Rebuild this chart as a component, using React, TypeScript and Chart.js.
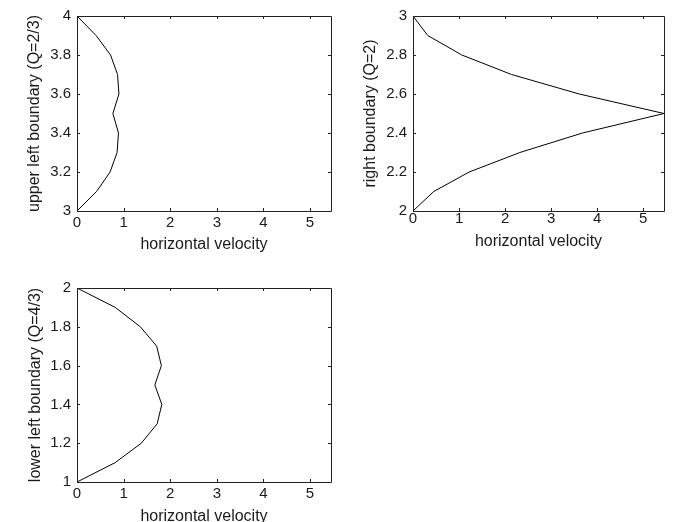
import React, { useEffect, useRef } from 'react';
import { Chart, registerables } from 'chart.js';

Chart.register(...registerables);

// ---- data ----
const upperLeftY = [4.0, 3.9, 3.8, 3.7, 3.6, 3.5, 3.4, 3.3, 3.2, 3.1, 3.0];
const upperLeftVelocity = [0, 0.41, 0.72, 0.87, 0.9, 0.77, 0.89, 0.86, 0.71, 0.42, 0];

const rightY = [3.0, 2.9, 2.8, 2.7, 2.6, 2.5, 2.4, 2.3, 2.2, 2.1, 2.0];
const rightVelocity = [0, 0.32, 1.06, 2.14, 3.61, 5.45, 3.68, 2.32, 1.22, 0.45, 0];

const lowerLeftY = [2.0, 1.9, 1.8, 1.7, 1.6, 1.5, 1.4, 1.3, 1.2, 1.1, 1.0];
const lowerLeftVelocity = [0, 0.82, 1.36, 1.71, 1.81, 1.67, 1.82, 1.72, 1.38, 0.82, 0];

const xAxisLabel = 'horizontal velocity';
const xMin = 0;
const xMax = 5.45;
const xStep = 1;
const yStep = 0.2;

const FONT = '"Liberation Sans", Arial, Helvetica, sans-serif';
const TEXT = '#1a1a1a';
const LINE = '#000000';
const TICK_SIZE = 15;
const TITLE_SIZE = 16;

const fmt = (v: number | string) => String(Number(Number(v).toFixed(1)));

type Panel = {
  left: number;
  top: number;
  width: number;
  height: number;
  yLabel: string;
  yValues: number[];
  velocity: number[];
  yMin: number;
  yMax: number;
  pad: { top: number; right: number; left: number; bottom: number };
  yAxisWidth: number;
  xAxisHeight: number;
  yTitlePad: number;
  xTitlePad: number;
  xTickPad: number;
};

const panels: Panel[] = [
  {
    left: 0, top: 0, width: 339, height: 261,
    yLabel: 'upper left boundary (Q=2/3)',
    yValues: upperLeftY, velocity: upperLeftVelocity, yMin: 3, yMax: 4,
    pad: { top: 16, right: 8, left: 0, bottom: 0 },
    yAxisWidth: 77, xAxisHeight: 50, yTitlePad: 25, xTitlePad: 7, xTickPad: 4,
  },
  {
    left: 339, top: 0, width: 339, height: 261,
    yLabel: 'right boundary (Q=2)',
    yValues: rightY, velocity: rightVelocity, yMin: 2, yMax: 3,
    pad: { top: 16, right: 14, left: 0, bottom: 0 },
    yAxisWidth: 74, xAxisHeight: 50, yTitlePad: 22, xTitlePad: 10, xTickPad: 0,
  },
  {
    left: 0, top: 261, width: 339, height: 280,
    yLabel: 'lower left boundary (Q=4/3)',
    yValues: lowerLeftY, velocity: lowerLeftVelocity, yMin: 1, yMax: 2,
    pad: { top: 27, right: 8, left: 0, bottom: 0 },
    yAxisWidth: 77, xAxisHeight: 59, yTitlePad: 26, xTitlePad: 15, xTickPad: 4,
  },
];

const boxPlugin = {
  id: 'matlabBox',
  afterDraw(chart: any) {
    const { ctx, chartArea } = chart;
    const { left, right, top, bottom } = chartArea;
    const xs = chart.scales.x;
    const ys = chart.scales.y;
    const tl = 3;
    ctx.save();
    ctx.strokeStyle = '#222';
    ctx.lineWidth = 1;
    ctx.beginPath();
    ctx.rect(Math.round(left) + 0.5, Math.round(top) + 0.5, Math.round(right - left), Math.round(bottom - top));
    ctx.stroke();
    ctx.beginPath();
    xs.ticks.forEach((t: any) => {
      const px = Math.round(xs.getPixelForValue(t.value)) + 0.5;
      ctx.moveTo(px, bottom);
      ctx.lineTo(px, bottom - tl);
      ctx.moveTo(px, top);
      ctx.lineTo(px, top + tl);
    });
    ys.ticks.forEach((t: any) => {
      const py = Math.round(ys.getPixelForValue(t.value)) + 0.5;
      ctx.moveTo(left, py);
      ctx.lineTo(left + tl, py);
      ctx.moveTo(right, py);
      ctx.lineTo(right - tl, py);
    });
    ctx.stroke();
    ctx.restore();
  },
};

function PanelChart({ p }: { p: Panel }) {
  const ref = useRef<HTMLCanvasElement | null>(null);
  useEffect(() => {
    if (!ref.current) return;
    const data = p.yValues.map((y, i) => ({ x: p.velocity[i], y }));
    const chart = new Chart(ref.current, {
      type: 'scatter',
      data: {
        datasets: [
          {
            data,
            showLine: true,
            borderColor: LINE,
            borderWidth: 1,
            pointRadius: 0,
            pointHoverRadius: 0,
            tension: 0,
            fill: false,
          },
        ],
      },
      options: {
        animation: false,
        responsive: false,
        maintainAspectRatio: false,
        devicePixelRatio: 1,
        layout: { padding: p.pad },
        plugins: {
          legend: { display: false },
          tooltip: { enabled: false },
        },
        events: [],
        scales: {
          x: {
            type: 'linear',
            min: xMin,
            max: xMax,
            grid: { display: false, drawTicks: false },
            border: { display: false },
            ticks: {
              stepSize: xStep,
              includeBounds: false,
              padding: p.xTickPad,
              color: TEXT,
              maxRotation: 0,
              autoSkip: false,
              callback: (v: any) => fmt(v),
              font: { family: FONT, size: TICK_SIZE, lineHeight: 1 },
            },
            title: {
              display: true,
              text: xAxisLabel,
              color: TEXT,
              font: { family: FONT, size: TITLE_SIZE, lineHeight: 1.2 },
              padding: { top: 0, bottom: p.xTitlePad },
            },
            afterFit: (s: any) => {
              s.height = p.xAxisHeight;
            },
          },
          y: {
            type: 'linear',
            min: p.yMin,
            max: p.yMax,
            grid: { display: false, drawTicks: false },
            border: { display: false },
            ticks: {
              stepSize: yStep,
              padding: 6,
              color: TEXT,
              autoSkip: false,
              callback: (v: any) => fmt(v),
              font: { family: FONT, size: TICK_SIZE, lineHeight: 1 },
            },
            title: {
              display: true,
              text: p.yLabel,
              color: TEXT,
              font: { family: FONT, size: TITLE_SIZE, lineHeight: 1.2 },
              padding: { top: p.yTitlePad, bottom: 0 },
            },
            afterFit: (s: any) => {
              s.width = p.yAxisWidth;
            },
          },
        },
      },
      plugins: [boxPlugin],
    });
    return () => chart.destroy();
  }, [p]);
  return (
    <canvas
      ref={ref}
      width={p.width}
      height={p.height}
      style={{ position: 'absolute', left: p.left, top: p.top, width: p.width, height: p.height }}
    />
  );
}

export default function App() {
  return (
    <div
      style={{
        position: 'absolute',
        left: 0,
        top: 0,
        width: 678,
        height: 522,
        overflow: 'hidden',
        background: '#ffffff',
      }}
    >
      {panels.map((p, i) => (
        <PanelChart key={i} p={p} />
      ))}
    </div>
  );
}
